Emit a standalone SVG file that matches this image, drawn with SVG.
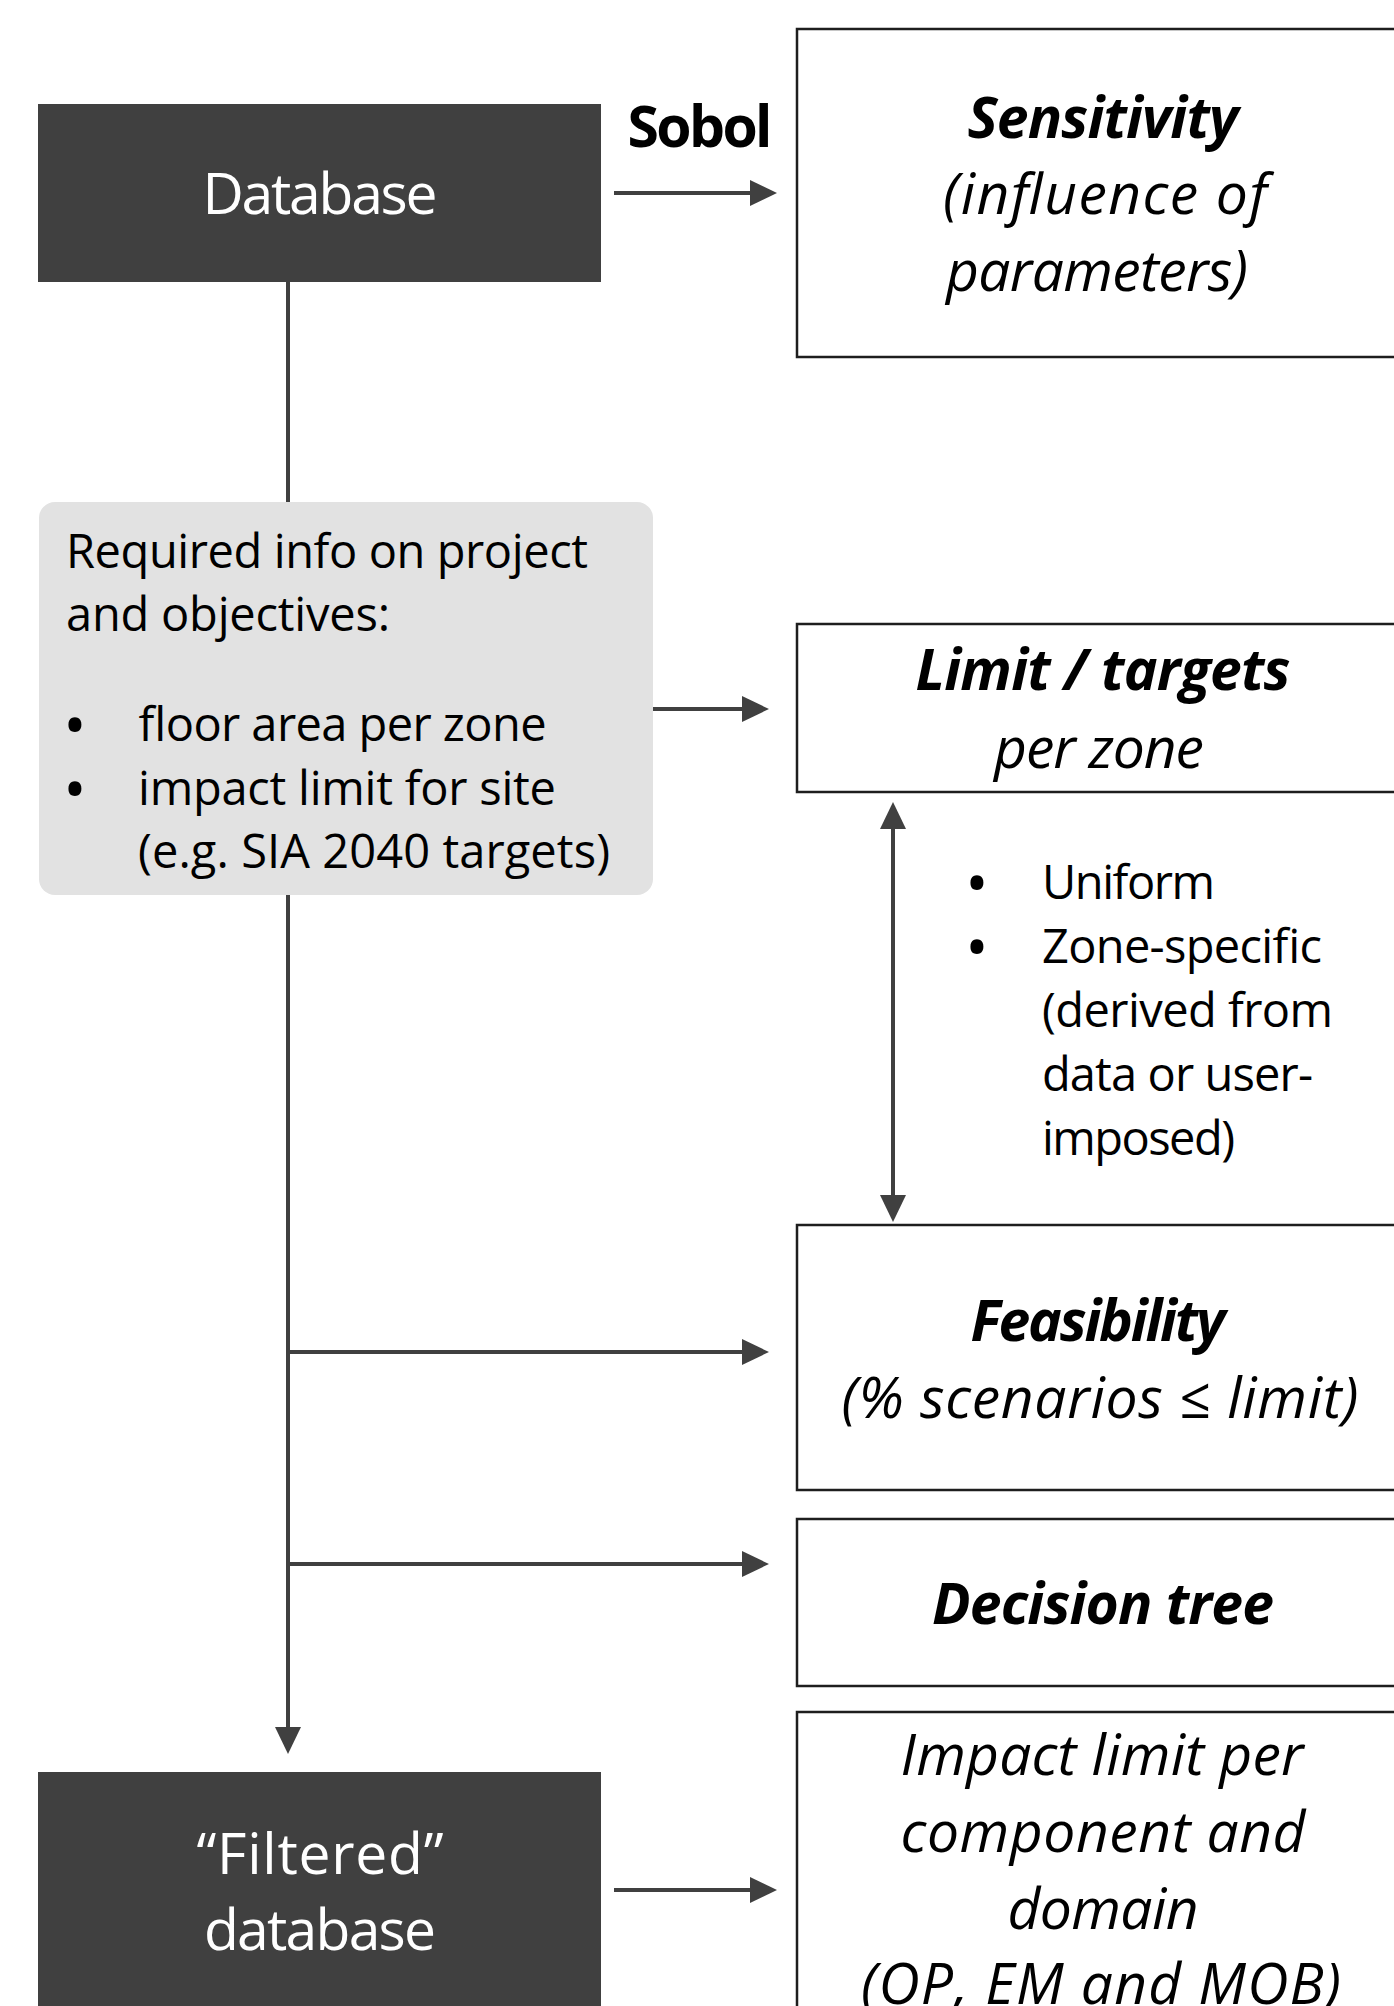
<svg xmlns="http://www.w3.org/2000/svg" width="1394" height="2006" viewBox="0 0 1394 2006">
<style>
text { font-family: "Open Sans", "Noto Sans", "Liberation Sans", sans-serif; fill: #000; }
.ttl { font-size: 57px; }
.bd { font-size: 47px; }
.bul { font-size: 62px; text-anchor: middle; }
.c { text-anchor: middle; }
.b { font-weight: 700; }
.i { font-style: italic; }
.w { fill: #ffffff; }
.dark { fill: #404040; }
.box { fill: #ffffff; stroke: #1e1e1e; stroke-width: 2.5; }
.info { fill: #e2e2e2; }
.conn { stroke: #404040; stroke-width: 4; fill: none; }
</style>
<defs>
<marker id="ah" markerUnits="userSpaceOnUse" viewBox="0 0 27 26" refX="0" refY="13" markerWidth="27" markerHeight="26" orient="auto-start-reverse">
<path d="M0,0 L27,13 L0,26 Z" fill="#404040"/>
</marker>
</defs>
<rect x="0" y="0" width="1394" height="2006" fill="#ffffff"/>

<g id="connectors">
<path class="conn" d="M614,193 H750" marker-end="url(#ah)"/>
<path class="conn" d="M288,282 V502"/>
<path class="conn" d="M653,709 H742" marker-end="url(#ah)"/>
<path class="conn" d="M288,895 V1727" marker-end="url(#ah)"/>
<path class="conn" d="M288,1352 H742" marker-end="url(#ah)"/>
<path class="conn" d="M288,1564 H742" marker-end="url(#ah)"/>
<path class="conn" d="M893,829 V1195" marker-start="url(#ah)" marker-end="url(#ah)"/>
<path class="conn" d="M614,1890 H750" marker-end="url(#ah)"/>
</g>

<g id="sobol-label">
<text class="ttl b c" x="700" y="147" textLength="145">Sobol</text>
</g>

<g id="database">
<rect class="dark" x="38" y="104" width="563" height="178"/>
<text class="ttl c w" x="320" y="214" textLength="235">Database</text>
</g>

<g id="sensitivity">
<rect class="box" x="797" y="29" width="612" height="328"/>
<text class="ttl b i c" x="1103" y="138" textLength="271">Sensitivity</text>
<text class="ttl i c" x="1105" y="214" textLength="324">(influence of</text>
<text class="ttl i c" x="1097" y="291" textLength="302">parameters)</text>
</g>

<g id="required-info">
<rect class="info" x="39" y="502" width="614" height="393" rx="16" ry="16"/>
<text class="bd" x="66" y="568" textLength="522">Required info on project</text>
<text class="bd" x="66" y="631" textLength="324">and objectives:</text>
<text class="bul" x="75" y="747">•</text>
<text class="bd" x="138" y="741" textLength="408">floor area per zone</text>
<text class="bul" x="75" y="811">•</text>
<text class="bd" x="138" y="805" textLength="418">impact limit for site</text>
<text class="bd" x="138" y="868" textLength="472">(e.g. SIA 2040 targets)</text>
</g>

<g id="limit-targets">
<rect class="box" x="797" y="624" width="612" height="168"/>
<text class="ttl b i c" x="1103" y="690" textLength="375">Limit / targets</text>
<text class="ttl i c" x="1099" y="768" textLength="210">per zone</text>
</g>

<g id="target-options">
<text class="bul" x="977" y="905">•</text>
<text class="bd" x="1042" y="899" textLength="173">Uniform</text>
<text class="bul" x="977" y="969">•</text>
<text class="bd" x="1042" y="963" textLength="280">Zone-specific</text>
<text class="bd" x="1042" y="1027" textLength="291">(derived from</text>
<text class="bd" x="1042" y="1091" textLength="271">data or user-</text>
<text class="bd" x="1042" y="1155" textLength="193">imposed)</text>
</g>

<g id="feasibility">
<rect class="box" x="797" y="1225" width="612" height="265"/>
<text class="ttl b i c" x="1098" y="1341" textLength="255">Feasibility</text>
<text class="ttl i c" x="1100" y="1418" textLength="517">(% scenarios ≤ limit)</text>
</g>

<g id="decision-tree">
<rect class="box" x="797" y="1519" width="612" height="167"/>
<text class="ttl b i c" x="1103" y="1624" textLength="342">Decision tree</text>
</g>

<g id="impact-limit">
<rect class="box" x="797" y="1712" width="612" height="400"/>
<text class="ttl i c" x="1102" y="1775" textLength="403">Impact limit per</text>
<text class="ttl i c" x="1103" y="1852" textLength="405">component and</text>
<text class="ttl i c" x="1103" y="1929" textLength="191">domain</text>
<text class="ttl i c" x="1101" y="2004" textLength="480">(OP, EM and MOB)</text>
</g>

<g id="filtered-database">
<rect class="dark" x="38" y="1772" width="563" height="300"/>
<text class="ttl c w" x="320" y="1874" textLength="247">“Filtered”</text>
<text class="ttl c w" x="320" y="1950" textLength="232">database</text>
</g>
</svg>
